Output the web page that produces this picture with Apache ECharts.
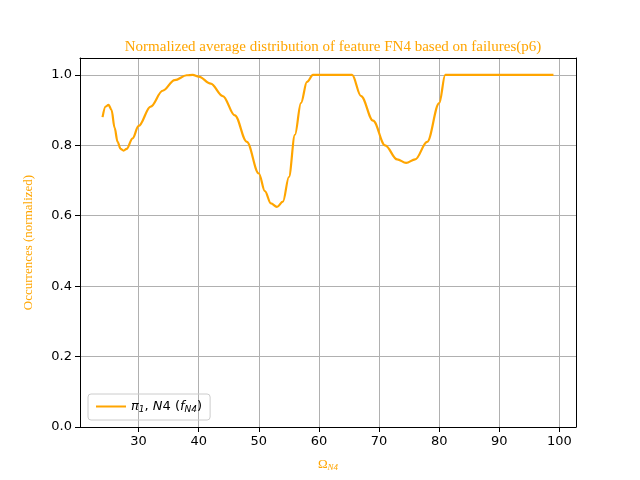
<!DOCTYPE html>
<html><head><meta charset="utf-8">
<script src="https://cdn.jsdelivr.net/npm/echarts@6/dist/echarts.min.js"></script>
<style>html,body{margin:0;background:#fff}#c{width:640px;height:480px}</style>
</head><body><div id="c"></div>
<script>
const xs = [24,24.5,25,25.5,26,26.5,27,27.5,28,29,30,32,34,36,38,39,40,42,44,46,48,50,51,52,53,54,55,56,57,58,59,65.5,67,69,71,73,74.5,76,78,80,81,99];
const ys = [0.88,0.91,0.915,0.9,0.85,0.81,0.79,0.785,0.79,0.82,0.855,0.91,0.955,0.985,0.999,1.0,0.995,0.975,0.94,0.885,0.81,0.72,0.67,0.635,0.625,0.64,0.71,0.83,0.92,0.98,1.0,1.0,0.94,0.87,0.8,0.76,0.75,0.76,0.81,0.92,1.0,1.0];
const xTicks = [30,40,50,60,70,80,90,100];
const yTicks = [0,0.2,0.4,0.6,0.8,1.0];
const c = echarts.init(document.getElementById('c'));
const serif = 'Liberation Serif';
const frame = {show:true,onZero:false,lineStyle:{color:'#000'}};
c.setOption({
  animation:false,
  title:{text:'Normalized average distribution of feature FN4 based on failures(p6)',left:328,textAlign:'center',top:35,textStyle:{color:'#ffa500',fontFamily:serif,fontWeight:'normal',fontSize:15}},
  grid:{left:80,right:64,top:58,bottom:53},
  legend:{left:88,bottom:60,orient:'vertical',borderColor:'#ccc',borderWidth:1,borderRadius:3,padding:[6,8],itemWidth:30,itemHeight:2,
    data:[{name:'s',icon:'rect'}],
    formatter:()=>'{i|π}{s|1}{n|, }{i|N}{n|4 (}{i|f}{s|N4}{n|)}',
    textStyle:{rich:{i:{fontStyle:'italic',fontSize:13,color:'#000',fontFamily:'DejaVu Sans'},n:{fontSize:13,color:'#000',fontFamily:'DejaVu Sans'},s:{fontSize:9,color:'#000',fontStyle:'italic',fontFamily:'DejaVu Sans',verticalAlign:'bottom',padding:[6,0,0,0]}}}},
  xAxis:[{type:'value',min:20.25,max:102.75,
    axisLine:frame,
    axisTick:{show:true,customValues:xTicks,lineStyle:{color:'#000'}},
    axisLabel:{customValues:xTicks,color:'#000',fontSize:13,fontFamily:'DejaVu Sans'},
    splitLine:{show:true,customValues:xTicks,lineStyle:{color:'#b0b0b0'}},
    name:'Ω{s|N4}',nameLocation:'middle',nameGap:30,nameTextStyle:{color:'#ffa500',fontFamily:serif,fontSize:13,rich:{s:{fontSize:9,fontStyle:'italic',color:'#ffa500',verticalAlign:'bottom',padding:[6,0,0,0]}}}},
    {type:'value',position:'top',min:20.25,max:102.75,axisLine:frame,axisTick:{show:false},axisLabel:{show:false},splitLine:{show:false}}],
  yAxis:[{type:'value',min:0,max:1.048,
    axisLine:frame,
    axisTick:{show:true,customValues:yTicks,lineStyle:{color:'#000'}},
    axisLabel:{customValues:yTicks,color:'#000',fontSize:13,fontFamily:'DejaVu Sans',formatter:v=>v.toFixed(1)},
    splitLine:{show:true,customValues:yTicks,lineStyle:{color:'#b0b0b0'}},
    name:'Occurrences (normalized)',nameLocation:'middle',nameGap:45,nameTextStyle:{color:'#ffa500',fontFamily:serif,fontSize:13}},
    {type:'value',position:'right',min:0,max:1.048,axisLine:frame,axisTick:{show:false},axisLabel:{show:false},splitLine:{show:false}}],
  series:[{name:'s',type:'line',data:xs.map((x,i)=>[x,ys[i]]),smooth:0.35,smoothMonotone:'x',showSymbol:false,lineStyle:{color:'#ffa500',width:2.2},itemStyle:{color:'#ffa500'}}]
});
</script></body></html>
